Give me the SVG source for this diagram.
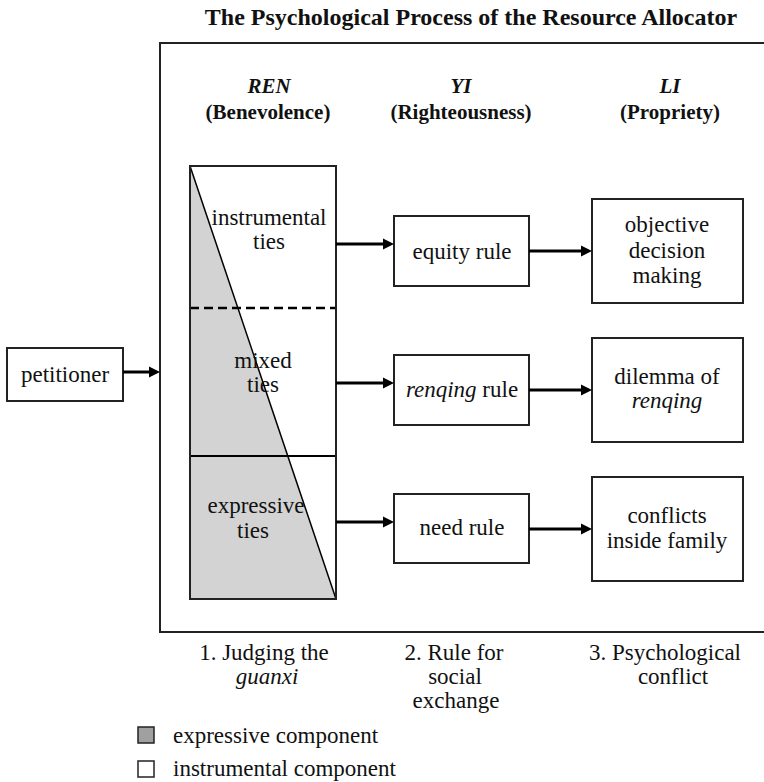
<svg xmlns="http://www.w3.org/2000/svg" width="764" height="782" viewBox="0 0 764 782">
<style>
text{font-family:"Liberation Serif","Times New Roman",serif;font-size:23px;fill:#111;text-anchor:middle}
.title{font-weight:bold;font-size:24px}
.hd{font-weight:bold;font-size:21px}
.it{font-style:italic}
.box{fill:#fff;stroke:#222;stroke-width:2}
.arrow{stroke:#000;stroke-width:3;fill:none}
.lg{text-anchor:start}
</style>
<defs>
<marker id="ah" markerUnits="userSpaceOnUse" markerWidth="12" markerHeight="12" refX="0" refY="6" orient="auto">
<path d="M0,0.5 L11,6 L0,11.5 z" fill="#000"/>
</marker>
</defs>
<rect id="frame" x="160" y="43" width="620" height="589" fill="none" stroke="#222" stroke-width="2"/>
<text class="title" x="471" y="25">The Psychological Process of the Resource Allocator</text>
<g id="headers">
<text class="hd it" x="269" y="93">REN</text>
<text class="hd" x="268" y="119">(Benevolence)</text>
<text class="hd it" x="461" y="93">YI</text>
<text class="hd" x="461" y="119">(Righteousness)</text>
<text class="hd it" x="670" y="93">LI</text>
<text class="hd" x="670" y="119">(Propriety)</text>
</g>
<g id="petitioner">
<rect class="box" x="7" y="348" width="116" height="53"/>
<text x="65" y="382">petitioner</text>
</g>
<g id="guanxi">
<rect x="190" y="166" width="146" height="433" fill="#fff"/>
<polygon points="190,166 336,599 190,599" fill="#d3d3d3"/>
<line x1="190" y1="166" x2="336" y2="599" stroke="#000" stroke-width="1.5"/>
<text x="269" y="225">instrumental</text>
<text x="269" y="249">ties</text>
<text x="263" y="368">mixed</text>
<text x="263" y="392">ties</text>
<text x="256" y="513">expressive</text>
<text x="253" y="538">ties</text>
<line x1="190" y1="308" x2="336" y2="308" stroke="#000" stroke-width="2.5" stroke-dasharray="9,5"/>
<line x1="190" y1="456" x2="336" y2="456" stroke="#000" stroke-width="2"/>
<rect x="190" y="166" width="146" height="433" fill="none" stroke="#222" stroke-width="2"/>
</g>
<g id="equity">
<rect class="box" x="394" y="216" width="135" height="70"/>
<text x="462" y="259">equity rule</text>
</g>
<g id="renqing">
<rect class="box" x="394" y="355" width="135" height="70"/>
<text x="462" y="397"><tspan class="it">renqing</tspan> rule</text>
</g>
<g id="need">
<rect class="box" x="394" y="494" width="135" height="69"/>
<text x="462" y="535">need rule</text>
</g>
<g id="objective">
<rect class="box" x="592" y="199" width="151" height="104"/>
<text x="667" y="232">objective</text>
<text x="667" y="258">decision</text>
<text x="667" y="283">making</text>
</g>
<g id="dilemma">
<rect class="box" x="592" y="338" width="151" height="104"/>
<text x="667" y="384">dilemma of</text>
<text class="it" x="667" y="408">renqing</text>
</g>
<g id="conflicts">
<rect class="box" x="592" y="477" width="151" height="104"/>
<text x="667" y="523">conflicts</text>
<text x="667" y="548">inside family</text>
</g>
<g id="connectors">
<line class="arrow" x1="123" y1="372" x2="149" y2="372" marker-end="url(#ah)"/>
<line class="arrow" x1="336" y1="244" x2="383" y2="244" marker-end="url(#ah)"/>
<line class="arrow" x1="336" y1="383" x2="383" y2="383" marker-end="url(#ah)"/>
<line class="arrow" x1="336" y1="522" x2="383" y2="522" marker-end="url(#ah)"/>
<line class="arrow" x1="529" y1="251" x2="581" y2="251" marker-end="url(#ah)"/>
<line class="arrow" x1="529" y1="390" x2="581" y2="390" marker-end="url(#ah)"/>
<line class="arrow" x1="529" y1="529" x2="581" y2="529" marker-end="url(#ah)"/>
</g>
<g id="stages">
<text x="264" y="660">1. Judging the</text>
<text class="it" x="267" y="684">guanxi</text>
<text x="454" y="660">2. Rule for</text>
<text x="455" y="684">social</text>
<text x="456" y="708">exchange</text>
<text x="665" y="660">3. Psychological</text>
<text x="673" y="684">conflict</text>
</g>
<g id="legend">
<rect x="138" y="727" width="16" height="16" fill="#a0a0a0" stroke="#222" stroke-width="1.5"/>
<text class="lg" x="173" y="743">expressive component</text>
<rect x="138" y="761" width="16" height="16" fill="#fff" stroke="#222" stroke-width="1.5"/>
<text class="lg" x="173" y="776">instrumental component</text>
</g>
</svg>
